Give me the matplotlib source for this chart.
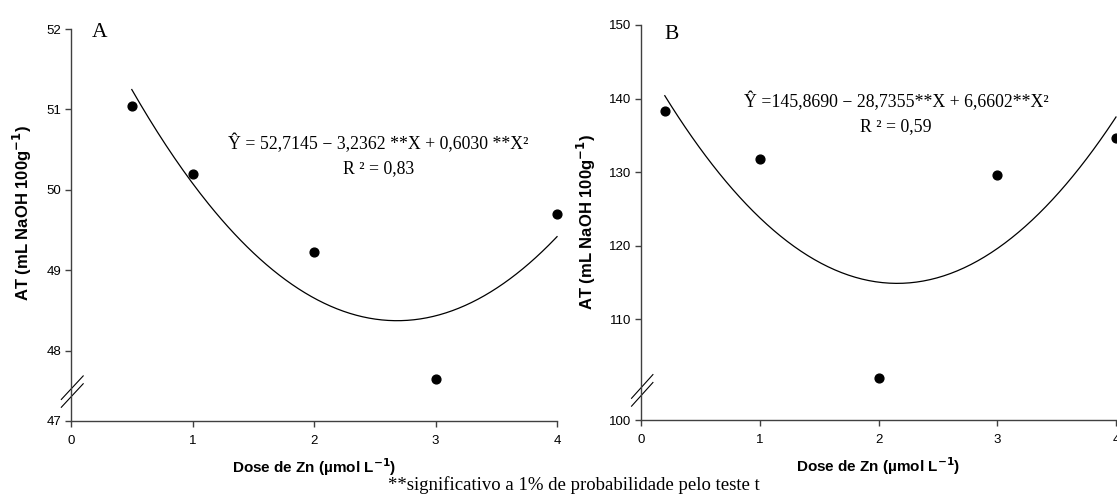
import matplotlib.pyplot as plt
import numpy as np

# dados
dose_a = [0.5, 1, 2, 3, 4]
at_a = [51.04, 50.20, 49.23, 47.65, 49.70]
coef_a = [52.7145, -3.2362, 0.6030]

dose_b = [0.2, 1, 2, 3, 4]
at_b = [138.3, 131.8, 102.0, 129.6, 134.7]
coef_b = [145.8690, -28.7355, 6.6602]

xticks = [0, 1, 2, 3, 4]
yticks_a = [47.125, 48, 49, 50, 51, 52]
ylabels_a = ["47", "48", "49", "50", "51", "52"]
yticks_b = [96.3, 110, 120, 130, 140, 150]
ylabels_b = ["100", "110", "120", "130", "140", "150"]

eq_a = "Ŷ = 52,7145 − 3,2362 **X + 0,6030 **X²"
eq_b = "Ŷ =145,8690 − 28,7355**X + 6,6602**X²"
r2_a = "R ² = 0,83"
r2_b = "R ² = 0,59"

plt.rcParams['font.family'] = ['Liberation Sans', 'DejaVu Sans']
serif = ['Liberation Serif', 'DejaVu Serif']

fig = plt.figure(figsize=(11.17, 4.95), dpi=100)
ax1 = fig.add_axes([0.0636, 0.1495, 0.4351, 0.7919])
ax2 = fig.add_axes([0.5739, 0.1515, 0.4252, 0.7980])


def painel(ax, x, y, coef, yticks, ylabels, ylim, letra, letpos, eq, r2,
           eqpos, r2pos, ylab_pos):
    xs = np.linspace(x[0], 4, 200)
    ys = coef[0] + coef[1] * xs + coef[2] * xs ** 2
    ax.plot(xs, ys, color='black', lw=0.9, clip_on=False)
    ax.scatter(x, y, s=40, color='black', zorder=3, clip_on=False)
    ax.set_xlim(0, 4)
    ax.set_ylim(*ylim)
    ax.set_xticks(xticks)
    ax.set_yticks(yticks)
    ax.set_yticklabels(ylabels)
    for s in ['top', 'right']:
        ax.spines[s].set_visible(False)
    for s in ['left', 'bottom']:
        ax.spines[s].set_color('#404040')
        ax.spines[s].set_linewidth(1.0)
    ax.tick_params(direction='out', length=4, width=1, labelsize=9.5, pad=3,
                   color='#404040')
    ax.tick_params(axis='x', pad=6)
    ax.set_xlabel("Dose de Zn (µmol L$^{\\mathbf{-1}}$)", fontsize=11,
                  fontweight='bold')
    ax.set_ylabel("AT (mL NaOH 100g$^{\\mathbf{-1}}$)", fontsize=12,
                  fontweight='bold')
    ax.xaxis.set_label_coords(0.5, -0.118)
    ax.xaxis.label.set_va('center')
    ax.yaxis.set_label_coords(*ylab_pos)
    ax.yaxis.label.set_va('center')
    ax.text(letpos[0], letpos[1], letra, transform=ax.transAxes, family=serif,
            fontsize=15.5, va='center', ha='left')
    ax.text(eqpos[0], eqpos[1], eq, transform=ax.transAxes, family=serif,
            fontsize=12.8, ha='center', va='center')
    ax.text(r2pos[0], r2pos[1], r2, transform=ax.transAxes, family=serif,
            fontsize=12.8, ha='center', va='center')
    # marca de quebra do eixo
    for dy in (0.0, 0.02):
        ax.plot([-0.02, 0.025], [0.035 + dy, 0.095 + dy], transform=ax.transAxes,
                color='black', lw=0.8, clip_on=False)


painel(ax1, dose_a, at_a, coef_a, yticks_a, ylabels_a, (47.125, 52), "A",
       (0.043, 0.99), eq_a, r2_a, (0.632, 0.707), (0.632, 0.643), (-0.101, 0.53))
painel(ax2, dose_b, at_b, coef_b, yticks_b, ylabels_b, (96.3, 150), "B",
       (0.05, 0.975), eq_b, r2_b, (0.537, 0.806), (0.537, 0.742), (-0.116, 0.5))

fig.text(0.514, 0.003, "**significativo a 1% de probabilidade pelo teste t",
         family=serif, fontsize=13.5, ha='center', va='bottom')

fig.savefig("out.png", dpi=100)
